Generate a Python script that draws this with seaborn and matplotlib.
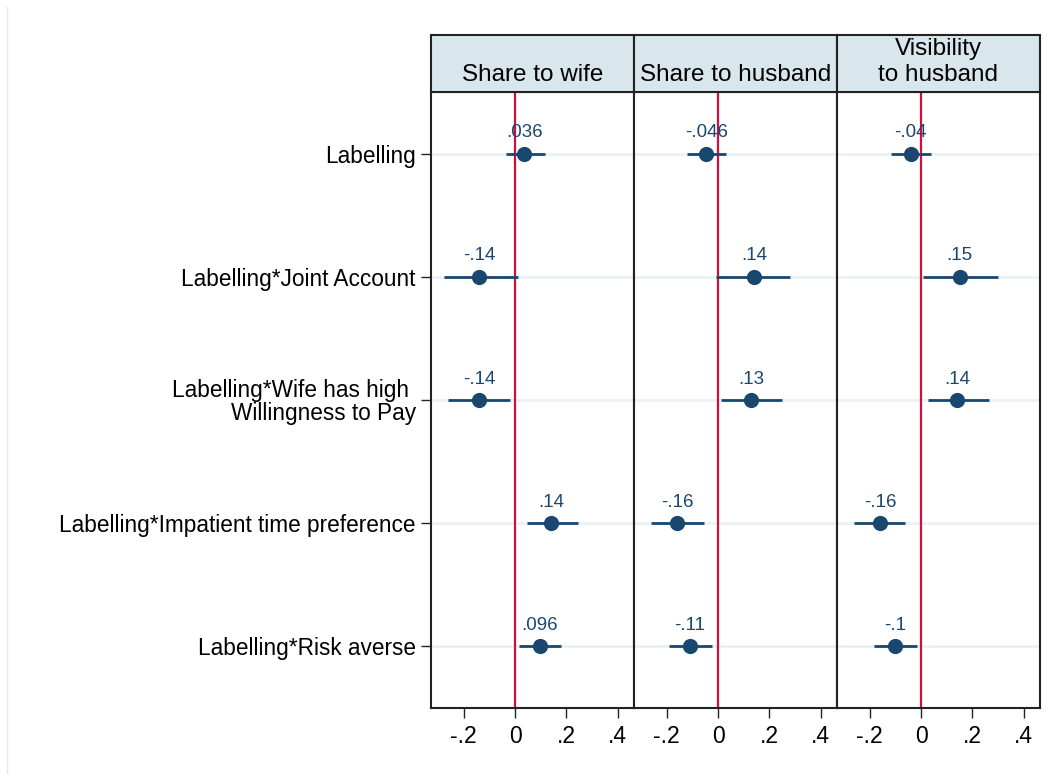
import numpy as np
import pandas as pd
import matplotlib
matplotlib.use('Agg')
import matplotlib.pyplot as plt
from matplotlib.patches import Rectangle
import seaborn as sns

sns.set_theme(style='white')
plt.rcParams['font.family'] = ['Liberation Sans', 'DejaVu Sans']

terms = ['Labelling', 'Labelling*Joint Account',
         'Labelling*Wife has high \nWillingness to Pay',
         'Labelling*Impatient time preference', 'Labelling*Risk averse']
outcomes = ['Share to wife', 'Share to husband', 'Visibility\nto husband']

coef_wife = [0.036, -0.14, -0.14, 0.14, 0.096]
lo_wife = [-0.035, -0.276, -0.26, 0.047, 0.016]
hi_wife = [0.117, 0.012, -0.02, 0.245, 0.179]

coef_husb = [-0.046, 0.14, 0.13, -0.16, -0.11]
lo_husb = [-0.12, -0.008, 0.012, -0.26, -0.19]
hi_husb = [0.031, 0.28, 0.249, -0.054, -0.023]

coef_vis = [-0.04, 0.15, 0.14, -0.16, -0.1]
lo_vis = [-0.117, 0.008, 0.027, -0.26, -0.183]
hi_vis = [0.039, 0.30, 0.265, -0.062, -0.016]

labels_wife = ['.036', '-.14', '-.14', '.14', '.096']
labels_husb = ['-.046', '.14', '.13', '-.16', '-.11']
labels_vis = ['-.04', '.15', '.14', '-.16', '-.1']

xticks = [-0.2, 0, 0.2, 0.4]
xticklabels = ['-.2', '0', '.2', '.4']

rows = []
for out, c, lo, hi, lab in zip(outcomes,
                               [coef_wife, coef_husb, coef_vis],
                               [lo_wife, lo_husb, lo_vis],
                               [hi_wife, hi_husb, hi_vis],
                               [labels_wife, labels_husb, labels_vis]):
    for i, t in enumerate(terms):
        rows.append(dict(outcome=out, term=t, pos=i, coef=c[i], lo=lo[i], hi=hi[i], label=lab[i]))
df = pd.DataFrame(rows)

navy = '#1a476f'
red = '#d0103a'
frame = '#222222'

fig = plt.figure(figsize=(10.52, 7.74), dpi=100)
left, right = 431 / 1052, 1040 / 1052
bottom, top = 1 - 708 / 774, 1 - 92 / 774
w = (right - left) / 3
ph = top - bottom
head_h = 57 / 774

# faint outer border line on the left
fig.add_artist(plt.Line2D([7 / 1052, 7 / 1052], [0, 1 - 7 / 774], color='#e8e8e8', lw=1))

for k, out in enumerate(outcomes):
    ax = fig.add_axes([left + k * w, bottom, w, ph])
    d = df[df['outcome'] == out]
    for p in range(len(terms)):
        ax.axhline(p, color='#eaf2f3', lw=2, zorder=0)
    ax.axvline(0, color=red, lw=1.6, zorder=1)
    ax.hlines(d['pos'], d['lo'], d['hi'], color=navy, lw=2, zorder=2)
    sns.scatterplot(data=d, x='coef', y='pos', ax=ax, color=navy, s=120,
                    edgecolor=navy, linewidth=0, zorder=3, legend=False)
    for _, r in d.iterrows():
        ax.annotate(r['label'], (r['coef'], r['pos']), xytext=(0, 15),
                    textcoords='offset points', ha='center', va='center',
                    color=navy, fontsize=13.5)
    ax.set_xlim(-0.327, 0.463)
    ax.set_ylim(4.5, -0.5)
    ax.set_xticks(xticks)
    ax.set_xticklabels(xticklabels, fontsize=16.5, color='black')
    ax.set_xlabel('')
    ax.set_ylabel('')
    ax.tick_params(axis='x', direction='out', length=7, width=1, color=frame,
                   bottom=True, pad=5)
    if k == 0:
        ax.set_yticks(range(len(terms)))
        ax.set_yticklabels(terms, fontsize=16.3, color='black', linespacing=0.95)
        ax.tick_params(axis='y', direction='out', length=7, width=1, color=frame,
                       left=True, pad=4)
    else:
        ax.set_yticks([])
    for s in ax.spines.values():
        s.set_color(frame)
        s.set_linewidth(1.5)
        s.set_visible(True)
    # header strip
    ax.add_patch(Rectangle((0, 1), 1, head_h / ph, transform=ax.transAxes,
                           facecolor='#d9e6eb', edgecolor=frame, lw=1.5,
                           clip_on=False, zorder=5))
    lines = out.split('\n')
    for j, line in enumerate(reversed(lines)):
        ax.text(0.5, 1 + (11 / 774 + j * 26 / 774) / ph, line, transform=ax.transAxes,
                ha='center', va='baseline', fontsize=17.5, color='black', zorder=6)

fig.savefig('out.png', dpi=100, facecolor='white')
